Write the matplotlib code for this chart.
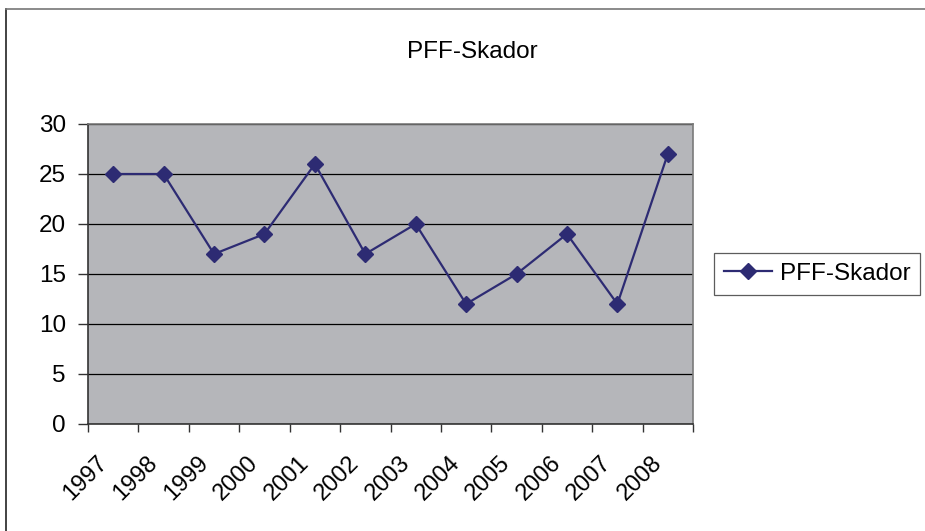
import matplotlib.pyplot as plt
from matplotlib.lines import Line2D

plt.rcParams['font.family'] = ['Liberation Sans', 'DejaVu Sans']

# data
years = ['1997', '1998', '1999', '2000', '2001', '2002',
         '2003', '2004', '2005', '2006', '2007', '2008']
skador = [25, 25, 17, 19, 26, 17, 20, 12, 15, 19, 12, 27]
series_name = 'PFF-Skador'
title = 'PFF-Skador'

navy = '#2d2b73'

fig = plt.figure(figsize=(9.25, 5.31), dpi=100)
ax = fig.add_axes([88/925, 1 - 424/531, (693 - 88)/925, (424 - 124)/531])
ax.set_facecolor('#b5b6ba')

n = len(years)
xs = [i + 0.5 for i in range(n)]
ax.plot(xs, skador, color=navy, lw=1.6, marker='D', ms=8.5,
        markerfacecolor=navy, markeredgecolor=navy, label=series_name, zorder=3)

ax.set_xlim(0, n)
ax.set_ylim(0, 30)
ax.set_yticks(range(0, 31, 5))
ax.yaxis.grid(True, color='black', lw=0.9)
ax.set_axisbelow(True)

# tick marks on category boundaries, labels sit just right of them
ax.set_xticks(range(n + 1))
ax.set_xticklabels([])
ax.set_xticks([i + 0.16 for i in range(n)], minor=True)
ax.set_xticklabels(years, minor=True, rotation=45, ha='right',
                   rotation_mode='anchor', fontsize=17)
ax.tick_params(axis='x', which='minor', length=0, pad=20)
ax.tick_params(axis='x', which='major', length=6, width=1, color='#333333')
ax.tick_params(axis='y', length=7, width=1, color='#333333', labelsize=17.5, pad=9)

for s in ['left', 'bottom']:
    ax.spines[s].set_color('#333333')
    ax.spines[s].set_linewidth(1.2)
for s in ['top', 'right']:
    ax.spines[s].set_color('#7a7a7a')
    ax.spines[s].set_linewidth(1.2)

fig.text(472/925, 1 - 52/531, title, ha='center', va='center', fontsize=17.5)

leg = fig.legend(loc='center left', bbox_to_anchor=(714/925, 1 - 274/531),
                 fontsize=17.5, frameon=True, fancybox=False, borderpad=0.4,
                 handlelength=2.0, handletextpad=0.3, borderaxespad=0)
leg.get_frame().set_edgecolor('#333333')
leg.get_frame().set_linewidth(0.9)

# chart area border (left and top)
fig.add_artist(Line2D([6/925, 6/925], [0, 1 - 9/531], color='#222222', lw=1.2))
fig.add_artist(Line2D([6/925, 1], [1 - 9/531, 1 - 9/531], color='#777777', lw=1.2))

fig.savefig('out.png', dpi=100)
